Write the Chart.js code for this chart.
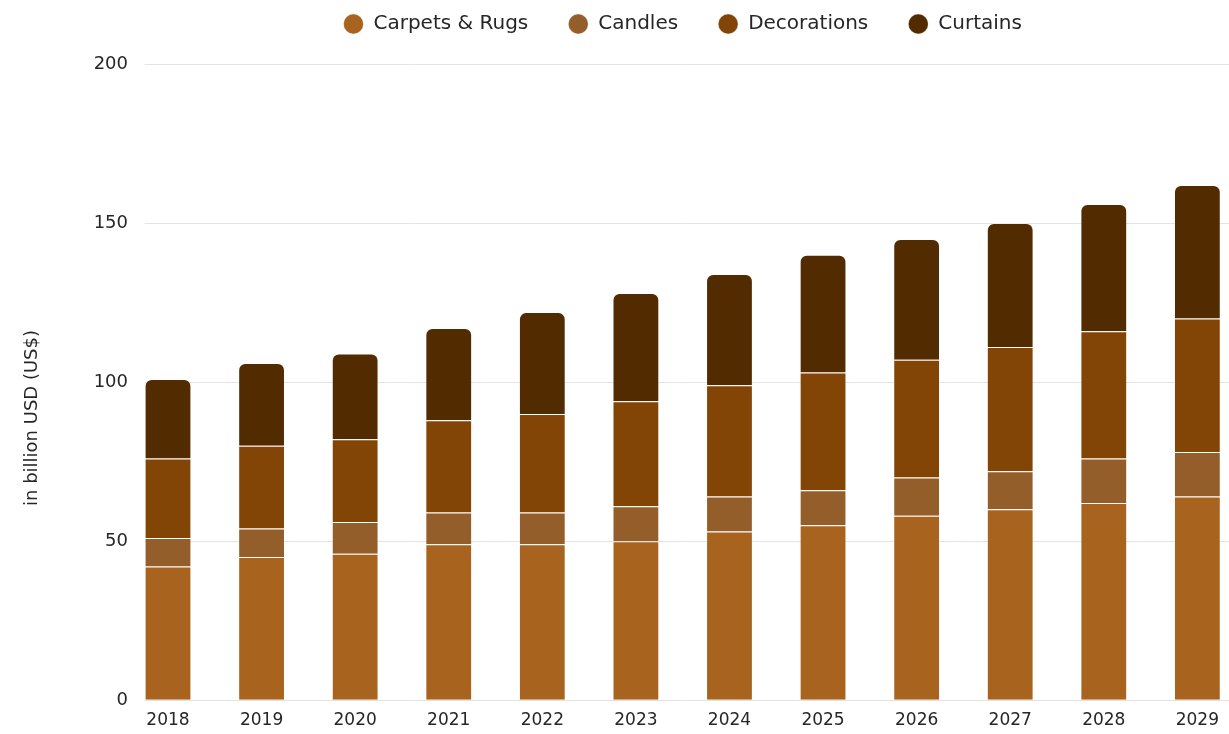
<!DOCTYPE html>
<html>
<head>
<meta charset="utf-8">
<title>Home decor market</title>
<script src="https://cdn.jsdelivr.net/npm/chart.js@4"></script>
<style>
  html, body { margin: 0; padding: 0; background: #fff; overflow: hidden; }
  #wrap { position: relative; width: 1229px; height: 751px; }
</style>
</head>
<body>
<div id="wrap"><canvas id="chart"></canvas></div>
<script>
// Years on the x axis
var years = ['2018', '2019', '2020', '2021', '2022', '2023', '2024', '2025', '2026', '2027', '2028', '2029'];

// Revenue per segment, billion USD
var carpetsRugs = [42, 45, 46, 49, 49, 50, 53, 55, 58, 60, 62, 64];
var candles     = [9, 9, 10, 10, 10, 11, 11, 11, 12, 12, 14, 14];
var decorations = [25, 26, 26, 29, 31, 33, 35, 37, 37, 39, 40, 42];
var curtains    = [25, 26, 27, 29, 32, 34, 35, 37, 38, 39, 40, 42];

// Y axis ticks
var yTicks = [0, 50, 100, 150, 200];

var textColor = '#262626';
var fontFamily = "'DejaVu Sans', 'Noto Sans', sans-serif";

// Horizontal grid lines run from the first bar's edge to the right border,
// and the axis title sits a bit below the middle
var gridAndTitle = {
  id: 'gridAndTitle',
  beforeDatasetsDraw: function (chart) {
    var ctx = chart.ctx;
    var first = chart.getDatasetMeta(0).data[0];
    var x0 = first.x - first.width / 2;
    ctx.save();
    ctx.strokeStyle = '#e3e3e3';
    ctx.lineWidth = 1;
    yTicks.forEach(function (v) {
      var y = Math.round(chart.scales.y.getPixelForValue(v)) + 0.5;
      ctx.beginPath();
      ctx.moveTo(x0, y);
      ctx.lineTo(chart.width, y);
      ctx.stroke();
    });
    ctx.restore();
  },
  afterDraw: function (chart) {
    var ctx = chart.ctx;
    ctx.save();
    ctx.translate(32, 418);
    ctx.rotate(-Math.PI / 2);
    ctx.fillStyle = textColor;
    ctx.font = '18px ' + fontFamily;
    ctx.textAlign = 'center';
    ctx.textBaseline = 'middle';
    ctx.fillText('in billion USD (US$)', 0, 0);
    ctx.restore();
  }
};

// Legend: wide gaps between items but a shorter box, drawn close to the top
var legendFit = {
  id: 'legendFit',
  beforeInit: function (chart) {
    var fit = chart.legend.fit;
    chart.legend.fit = function () {
      fit.call(this);
      this.height -= 6;
    };
  },
  afterLayout: function (chart) {
    chart.legend.top -= 26;
    chart.legend.bottom -= 26;
  }
};

var segBorder = 'rgba(255, 255, 255, 0.25)';

var ctx = document.getElementById('chart').getContext('2d');
var myChart = new Chart(ctx, {
  type: 'bar',
  data: {
    labels: years,
    datasets: [
      { label: 'Carpets & Rugs', data: carpetsRugs, backgroundColor: '#a8641f', borderColor: segBorder, borderWidth: 1 },
      { label: 'Candles', data: candles, backgroundColor: '#935e2a', borderColor: segBorder, borderWidth: 1 },
      { label: 'Decorations', data: decorations, backgroundColor: '#834506', borderColor: segBorder, borderWidth: 1 },
      { label: 'Curtains', data: curtains, backgroundColor: '#522c00', borderColor: segBorder, borderWidth: 1,
        borderRadius: { topLeft: 7, topRight: 7 }, borderSkipped: 'bottom' }
    ]
  },
  options: {
    responsive: true,
    maintainAspectRatio: false,
    animation: false,
    datasets: {
      bar: { categoryPercentage: 1, barPercentage: 0.5, clip: false }
    },
    layout: { padding: { top: 0, right: 27, bottom: 0, left: 0 } },
    plugins: {
      legend: {
        position: 'top',
        fullSize: false,
        labels: {
          usePointStyle: true,
          pointStyle: 'circle',
          boxWidth: 20,
          boxHeight: 14,
          padding: 40,
          color: textColor,
          font: { family: fontFamily, size: 20 }
        }
      },
      tooltip: { enabled: false }
    },
    scales: {
      x: {
        stacked: true,
        offset: false,
        afterFit: function (scale) { scale.height = 34; },
        grid: { display: false, drawTicks: false },
        border: { display: false },
        ticks: {
          color: textColor,
          padding: 10,
          font: { family: fontFamily, size: 17 }
        }
      },
      y: {
        stacked: true,
        min: 0,
        max: 200,
        afterFit: function (scale) { scale.width = 168; },
        afterBuildTicks: function (scale) {
          scale.ticks = yTicks.map(function (v) { return { value: v }; });
        },
        grid: { drawOnChartArea: false, drawTicks: false },
        border: { display: false },
        ticks: {
          color: textColor,
          padding: 40,
          font: { family: fontFamily, size: 18 }
        }
      }
    }
  },
  plugins: [gridAndTitle, legendFit]
});
</script>
</body>
</html>
